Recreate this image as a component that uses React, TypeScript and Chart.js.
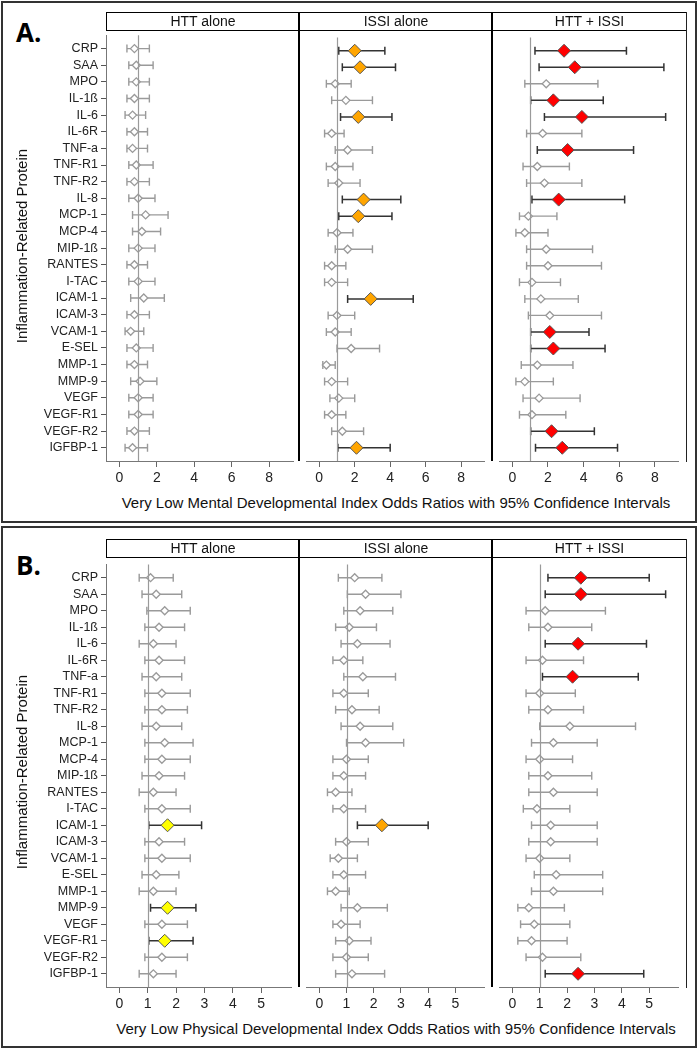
import React, { useEffect, useRef } from "react";
import { Chart, registerables } from "chart.js";

Chart.register(...registerables);

const PROTEINS = ["CRP","SAA","MPO","IL-1ß","IL-6","IL-6R","TNF-a","TNF-R1","TNF-R2","IL-8","MCP-1","MCP-4","MIP-1ß","RANTES","I-TAC","ICAM-1","ICAM-3","VCAM-1","E-SEL","MMP-1","MMP-9","VEGF","VEGF-R1","VEGF-R2","IGFBP-1"];
const FACET_TITLES = ["HTT alone", "ISSI alone", "HTT + ISSI"];
const X_TICKS_A = [0, 2, 4, 6, 8];
const X_TICKS_B = [0, 1, 2, 3, 4, 5];
const REF_VALUE = 1;
const TITLE_A = "Very Low Mental Developmental Index Odds Ratios with 95% Confidence Intervals";
const TITLE_B = "Very Low Physical Developmental Index Odds Ratios with 95% Confidence Intervals";
const Y_TITLE = "Inflammation-Related Protein";

// Panel A
const A_HTT_OR = [0.8,0.9,0.9,0.8,0.7,0.8,0.7,0.9,0.8,1.0,1.4,1.2,1.0,0.8,1.0,1.3,0.8,0.6,0.9,0.8,1.1,1.0,1.0,0.8,0.7];
const A_HTT_LO = [0.4,0.5,0.5,0.4,0.3,0.4,0.4,0.5,0.4,0.5,0.7,0.7,0.5,0.4,0.5,0.6,0.4,0.3,0.4,0.4,0.6,0.5,0.5,0.4,0.3];
const A_HTT_HI = [1.6,1.8,1.6,1.6,1.4,1.5,1.5,1.8,1.6,1.9,2.6,2.2,1.9,1.5,1.9,2.4,1.6,1.3,1.8,1.5,2.0,1.8,1.8,1.6,1.5];
const A_HTT_SIG: string[] = [];

const A_ISSI_OR = [2.0,2.3,0.9,1.5,2.2,0.7,1.6,0.9,1.1,2.5,2.2,1.0,1.6,0.7,0.7,2.9,1.0,0.9,1.8,0.4,0.7,1.1,0.7,1.3,2.1];
const A_ISSI_LO = [1.1,1.3,0.4,0.7,1.2,0.3,0.9,0.4,0.5,1.3,1.1,0.5,0.9,0.3,0.3,1.6,0.5,0.4,1.0,0.2,0.3,0.6,0.3,0.7,1.05];
const A_ISSI_HI = [3.7,4.3,1.8,3.0,4.1,1.4,3.0,1.9,2.3,4.6,4.1,1.9,3.0,1.5,1.6,5.3,2.0,1.8,3.4,0.9,1.6,2.0,1.5,2.5,4.0];
const A_ISSI_SIG = ["CRP","SAA","IL-6","IL-8","MCP-1","ICAM-1","IGFBP-1"];

const A_BOTH_OR = [2.9,3.5,1.9,2.3,3.9,1.7,3.1,1.4,1.8,2.6,0.9,0.7,1.9,2.0,1.1,1.6,2.1,2.1,2.3,1.4,0.7,1.5,1.1,2.2,2.8];
const A_BOTH_LO = [1.27,1.5,0.7,1.03,1.8,0.8,1.4,0.6,0.8,1.1,0.4,0.2,0.8,0.8,0.4,0.7,0.9,1.03,1.03,0.5,0.2,0.6,0.4,1.03,1.3];
const A_BOTH_HI = [6.4,8.5,4.8,5.1,8.6,3.9,6.8,3.2,3.9,6.3,2.5,2.0,4.5,5.0,2.7,3.7,5.0,4.3,5.2,3.4,2.3,3.8,3.0,4.6,5.9];
const A_BOTH_SIG = ["CRP","SAA","IL-1ß","IL-6","TNF-a","IL-8","VCAM-1","E-SEL","VEGF-R2","IGFBP-1"];

// Panel B
const B_HTT_OR = [1.1,1.3,1.6,1.4,1.2,1.4,1.3,1.5,1.5,1.3,1.6,1.5,1.4,1.2,1.5,1.7,1.4,1.5,1.3,1.2,1.7,1.5,1.6,1.5,1.2];
const B_HTT_LO = [0.7,0.8,0.97,0.9,0.7,0.9,0.8,0.9,0.9,0.8,0.9,0.9,0.8,0.7,0.9,1.04,0.9,0.9,0.8,0.7,1.1,0.9,1.04,0.9,0.7];
const B_HTT_HI = [1.9,2.2,2.5,2.3,2.0,2.3,2.2,2.5,2.4,2.2,2.6,2.5,2.3,2.0,2.5,2.9,2.3,2.5,2.1,2.0,2.7,2.4,2.6,2.4,2.0];
const B_HTT_SIG = ["ICAM-1","MMP-9","VEGF-R1"];

const B_ISSI_OR = [1.3,1.7,1.5,1.1,1.4,0.9,1.6,0.9,1.2,1.5,1.7,1.0,0.9,0.6,0.9,2.3,1.0,0.7,0.9,0.6,1.4,0.8,1.1,1.0,1.2];
const B_ISSI_LO = [0.7,1.03,0.9,0.6,0.8,0.5,0.9,0.5,0.6,0.8,1.0,0.5,0.5,0.3,0.5,1.4,0.6,0.4,0.5,0.3,0.8,0.5,0.6,0.5,0.6];
const B_ISSI_HI = [2.3,3.0,2.7,2.1,2.6,1.6,2.8,1.8,2.2,2.7,3.1,1.8,1.7,1.2,1.7,4.0,1.8,1.4,1.7,1.1,2.5,1.5,1.9,1.8,2.4];
const B_ISSI_SIG = ["ICAM-1"];

const B_BOTH_OR = [2.5,2.5,1.2,1.3,2.4,1.1,2.2,1.0,1.3,2.1,1.5,1.0,1.3,1.5,0.9,1.4,1.4,1.0,1.6,1.5,0.6,0.8,0.7,1.1,2.4];
const B_BOTH_LO = [1.3,1.2,0.5,0.6,1.2,0.5,1.1,0.5,0.6,1.0,0.7,0.5,0.6,0.6,0.4,0.7,0.6,0.5,0.8,0.7,0.2,0.3,0.2,0.5,1.2];
const B_BOTH_HI = [5.0,5.6,3.4,2.9,4.9,2.6,4.6,2.3,2.6,4.5,3.1,2.2,2.9,3.1,2.1,3.1,3.1,2.1,3.3,3.3,1.9,2.1,2.0,2.5,4.8];
const B_BOTH_SIG = ["CRP","SAA","IL-6","TNF-a","IGFBP-1"];

const FONT = "'Liberation Sans', Arial, sans-serif";
const GRAY = "#9a9a9a";
const DARK = "#333333";

type FacetProps = {
  left: number; top: number; plotW: number; plotH: number; showY: boolean;
  xMin: number; xMax: number; xTicks: number[];
  or: number[]; lo: number[]; hi: number[]; sig: string[]; color: string;
};

const Y_AXIS_W = 106;
const X_AXIS_H = 32;

function Facet(p: FacetProps) {
  const ref = useRef<HTMLCanvasElement>(null);
  const yW = p.showY ? Y_AXIS_W : 0;
  const W = p.plotW + yW;
  const H = p.plotH + X_AXIS_H;
  useEffect(() => {
    if (!ref.current) return;
    const isSig = PROTEINS.map((name) => p.sig.includes(name));
    const errPlugin = {
      id: "errBars",
      beforeDatasetsDraw(chart: any) {
        const ctx = chart.ctx;
        const xs = chart.scales.x;
        const ys = chart.scales.y;
        ctx.save();
        PROTEINS.forEach((_, i) => {
          const y = ys.getPixelForValue(i);
          const x1 = xs.getPixelForValue(p.lo[i]);
          const x2 = xs.getPixelForValue(p.hi[i]);
          ctx.strokeStyle = isSig[i] ? DARK : GRAY;
          ctx.lineWidth = isSig[i] ? 1.5 : 1.4;
          ctx.beginPath();
          ctx.moveTo(x1, y); ctx.lineTo(x2, y);
          ctx.moveTo(x1, y - 4); ctx.lineTo(x1, y + 4);
          ctx.moveTo(x2, y - 4); ctx.lineTo(x2, y + 4);
          ctx.stroke();
        });
        ctx.restore();
      },
      afterDatasetsDraw(chart: any) {
        const ctx = chart.ctx;
        const xs = chart.scales.x;
        const a = chart.chartArea;
        const x = Math.round(xs.getPixelForValue(REF_VALUE)) + 0.5;
        ctx.save();
        ctx.strokeStyle = GRAY;
        ctx.lineWidth = 1.2;
        ctx.beginPath();
        ctx.moveTo(x, a.top); ctx.lineTo(x, a.bottom);
        ctx.stroke();
        ctx.restore();
      },
    };
    const chart = new Chart(ref.current, {
      type: "scatter",
      data: {
        datasets: [
          {
            data: p.or.map((v, i) => ({ x: v, y: i })),
            pointStyle: "rectRot",
            pointRadius: isSig.map((s) => (s ? 6.5 : 4)),
            pointBackgroundColor: isSig.map((s) => (s ? p.color : "#ffffff")),
            pointBorderColor: isSig.map((s) => (s ? "#555555" : GRAY)),
            pointBorderWidth: isSig.map((s) => (s ? 1 : 1.3)),
          } as any,
        ],
      },
      options: {
        responsive: false,
        maintainAspectRatio: false,
        animation: false,
        events: [],
        layout: { padding: 0 },
        plugins: { legend: { display: false }, tooltip: { enabled: false } },
        scales: {
          x: {
            type: "linear",
            min: p.xMin,
            max: p.xMax,
            afterBuildTicks: (s: any) => { s.ticks = p.xTicks.map((v) => ({ value: v })); },
            afterFit: (s: any) => { s.height = X_AXIS_H; s.paddingLeft = 0; s.paddingRight = 0; },
            ticks: { autoSkip: false, maxRotation: 0, padding: 3, color: "#222", font: { family: FONT, size: 14 } },
            grid: { drawOnChartArea: false, drawTicks: true, tickLength: 6, color: "#666" },
            border: { display: true, color: "#777", width: 1 },
          },
          y: {
            type: "linear",
            display: p.showY,
            reverse: true,
            min: -0.8,
            max: 24.8,
            afterBuildTicks: (s: any) => { s.ticks = PROTEINS.map((_, i) => ({ value: i })); },
            afterFit: (s: any) => { s.width = yW; s.paddingTop = 0; s.paddingBottom = 0; },
            ticks: {
              autoSkip: false,
              padding: 3,
              color: "#222",
              font: { family: FONT, size: 12.5 },
              callback: (v: any) => PROTEINS[Number(v)] ?? "",
            },
            grid: { drawOnChartArea: false, drawTicks: true, tickLength: 5, color: "#555" },
            border: { display: true, color: "#777", width: 1 },
          },
        },
      },
      plugins: [errPlugin],
    } as any);
    return () => chart.destroy();
  }, []);
  return (
    <canvas
      ref={ref}
      width={W}
      height={H}
      style={{ position: "absolute", left: p.left - yW, top: p.top, width: W, height: H }}
    />
  );
}

const FACET_LEFTS = [106, 299, 492];
const FACET_RIGHT = 686;

type PanelProps = {
  label: string; boxTop: number; boxH: number; headerTop: number; plotTop: number; plotH: number;
  xMin: number; xMax: number; xTicks: number[]; title: string; titleY: number; labelY: number;
  series: { or: number[]; lo: number[]; hi: number[]; sig: string[]; color: string }[];
};

function Panel(p: PanelProps) {
  const widths = FACET_LEFTS.map((l, i) => (i < 2 ? FACET_LEFTS[i + 1] : FACET_RIGHT) - l);
  const plotBottom = p.plotTop + p.plotH;
  return (
    <>
      <div style={{ position: "absolute", left: 1, top: p.boxTop, width: 696, height: p.boxH, border: "2px solid #333", boxSizing: "border-box" }} />
      <div style={{ position: "absolute", left: 16, top: p.labelY - 16, fontFamily: "'Open Sans', 'Liberation Sans', Arial, sans-serif", fontWeight: 700, fontSize: 26, lineHeight: "32px", color: "#000" }}>{p.label}</div>
      {p.series.map((s, i) => (
        <Facet key={i} left={FACET_LEFTS[i]} top={p.plotTop} plotW={widths[i]} plotH={p.plotH} showY={i === 0}
          xMin={p.xMin} xMax={p.xMax} xTicks={p.xTicks} or={s.or} lo={s.lo} hi={s.hi} sig={s.sig} color={s.color} />
      ))}
      {FACET_TITLES.map((t, i) => (
        <div key={t} style={{ position: "absolute", left: FACET_LEFTS[i], top: p.headerTop, width: widths[i] + 1, height: p.plotTop - p.headerTop + 1, border: "1.5px solid #000", boxSizing: "border-box", fontFamily: FONT, fontSize: 14, color: "#111", textAlign: "center", lineHeight: `${p.plotTop - p.headerTop - 2}px` }}>{t}</div>
      ))}
      {[FACET_LEFTS[1], FACET_LEFTS[2]].map((x) => (
        <div key={x} style={{ position: "absolute", left: x - 1, top: p.headerTop, width: 2.2, height: plotBottom - p.headerTop, background: "#000" }} />
      ))}
      <div style={{ position: "absolute", left: FACET_RIGHT - 0.5, top: p.headerTop, width: 1.5, height: plotBottom - p.headerTop + 1, background: "#222" }} />
      <div style={{ position: "absolute", left: FACET_LEFTS[0], top: p.titleY - 10, width: FACET_RIGHT - FACET_LEFTS[0], textAlign: "center", fontFamily: FONT, fontSize: 15, lineHeight: "20px", color: "#111" }}>{p.title}</div>
      <div style={{ position: "absolute", left: 22 - 150, top: p.plotTop + p.plotH / 2 - 10, width: 300, textAlign: "center", transform: "rotate(-90deg)", fontFamily: FONT, fontSize: 15, lineHeight: "20px", color: "#111" }}>{Y_TITLE}</div>
    </>
  );
}

export default function App() {
  return (
    <div style={{ position: "absolute", left: 0, top: 0, width: 700, height: 1050, background: "#fff", overflow: "hidden" }}>
      <Panel label="A." boxTop={1} boxH={522} headerTop={12} plotTop={30} plotH={431}
        xMin={-0.72} xMax={9.32} xTicks={X_TICKS_A} title={TITLE_A} titleY={503} labelY={32}
        series={[
          { or: A_HTT_OR, lo: A_HTT_LO, hi: A_HTT_HI, sig: A_HTT_SIG, color: "#FFA500" },
          { or: A_ISSI_OR, lo: A_ISSI_LO, hi: A_ISSI_HI, sig: A_ISSI_SIG, color: "#FFA500" },
          { or: A_BOTH_OR, lo: A_BOTH_LO, hi: A_BOTH_HI, sig: A_BOTH_SIG, color: "#FF0000" },
        ]} />
      <Panel label="B." boxTop={526} boxH={522} headerTop={539} plotTop={557} plotH={430}
        xMin={-0.47} xMax={6.07} xTicks={X_TICKS_B} title={TITLE_B} titleY={1029} labelY={565}
        series={[
          { or: B_HTT_OR, lo: B_HTT_LO, hi: B_HTT_HI, sig: B_HTT_SIG, color: "#FFFF00" },
          { or: B_ISSI_OR, lo: B_ISSI_LO, hi: B_ISSI_HI, sig: B_ISSI_SIG, color: "#FFA500" },
          { or: B_BOTH_OR, lo: B_BOTH_LO, hi: B_BOTH_HI, sig: B_BOTH_SIG, color: "#FF0000" },
        ]} />
    </div>
  );
}
